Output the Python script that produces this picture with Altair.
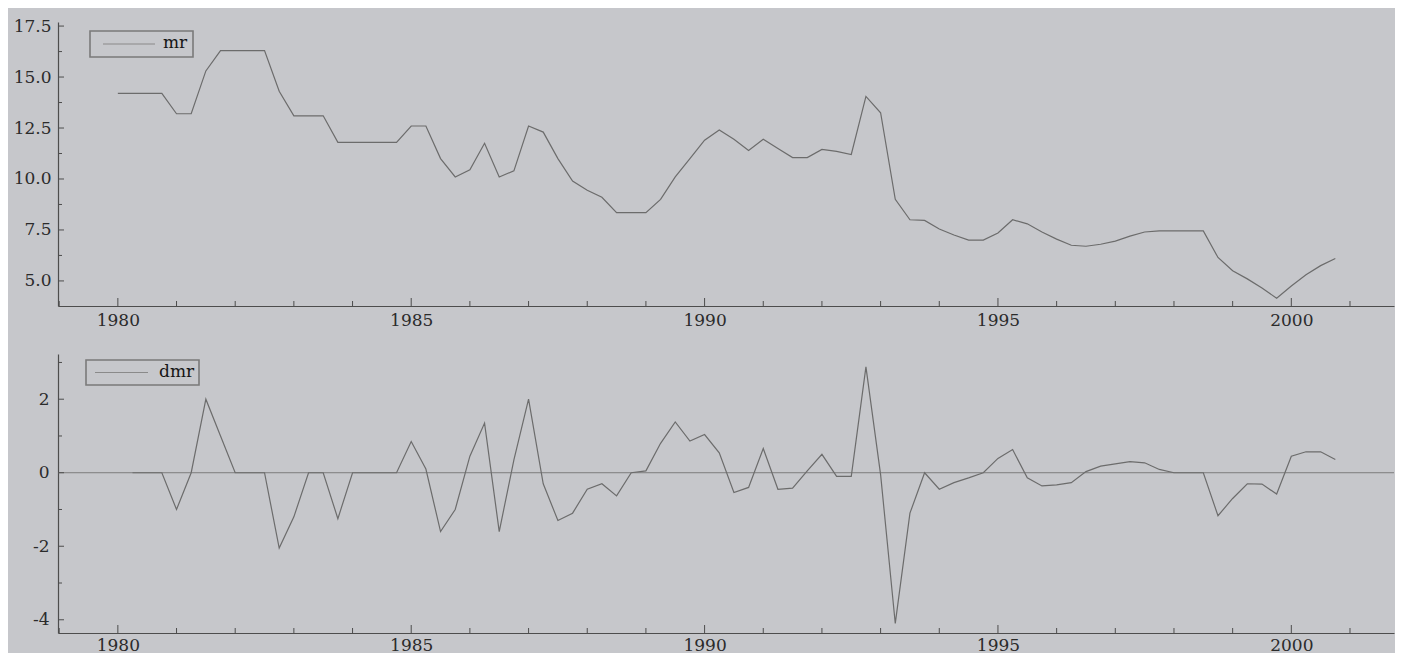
import altair as alt
import pandas as pd

# ---- data (quarterly, 1980Q1 .. 2000Q4) ----
years = list(range(1980, 2001))
quarters = [1, 2, 3, 4]

mr = [
    14.2, 14.2, 14.2, 14.2,
    13.2, 13.2, 15.3, 16.3,
    16.3, 16.3, 16.3, 14.3,
    13.1, 13.1, 13.1, 11.8,
    11.8, 11.8, 11.8, 11.8,
    12.6, 12.6, 11.0, 10.1,
    10.45, 11.75, 10.1, 10.4,
    12.6, 12.3, 11.0, 9.9,
    9.45, 9.1, 8.35, 8.35,
    8.35, 9.0, 10.1, 11.0,
    11.9, 12.4, 11.95, 11.4,
    11.95, 11.5, 11.05, 11.05,
    11.45, 11.35, 11.2, 14.05,
    13.25, 9.0, 8.0, 7.97,
    7.55, 7.25, 7.0, 7.0,
    7.35, 8.0, 7.8, 7.4,
    7.05, 6.75, 6.7, 6.8,
    6.95, 7.2, 7.4, 7.45,
    7.45, 7.45, 7.45, 6.15,
    5.5, 5.1, 4.65, 4.15,
    4.75, 5.3, 5.75, 6.1,
]

dmr = [
    None, 0.0, 0.0, 0.0,
    -1.0, 0.0, 2.0, 1.0,
    0.0, 0.0, 0.0, -2.05,
    -1.2, 0.0, 0.0, -1.25,
    0.0, 0.0, 0.0, 0.0,
    0.85, 0.1, -1.6, -1.0,
    0.45, 1.35, -1.6, 0.35,
    2.0, -0.3, -1.3, -1.1,
    -0.45, -0.3, -0.63, 0.0,
    0.05, 0.8, 1.38, 0.86,
    1.04, 0.54, -0.54, -0.4,
    0.66, -0.45, -0.42, 0.05,
    0.5, -0.1, -0.1, 2.88,
    -0.05, -4.1, -1.1, 0.0,
    -0.45, -0.27, -0.14, 0.0,
    0.39, 0.63, -0.14, -0.36,
    -0.33, -0.27, 0.03, 0.18,
    0.24, 0.3, 0.27, 0.09,
    0.0, 0.0, 0.0, -1.17,
    -0.7, -0.3, -0.31, -0.58,
    0.45, 0.57, 0.57, 0.36,
]

x_tick_labels = [1980, 1985, 1990, 1995, 2000]
x_tick_years = list(range(1979, 2002))
top_y_labels = [5.0, 7.5, 10.0, 12.5, 15.0, 17.5]
top_y_minor = [6.25, 8.75, 11.25, 13.75, 16.25]
bot_y_labels = [-4, -2, 0, 2]
bot_y_minor = [-3, -1, 1, 3]

# ---- tables built from the arrays ----
t = [y + (q - 1) / 4 for y in years for q in quarters]
df = pd.DataFrame({"t": t, "mr": mr, "dmr": dmr})
df_dmr = df.dropna(subset=["dmr"])
xt = pd.DataFrame({"year": x_tick_years,
                   "major": [y % 5 == 0 for y in x_tick_years]})
yt_top = pd.DataFrame({"v": top_y_labels + top_y_minor,
                       "major": [True] * len(top_y_labels) + [False] * len(top_y_minor)})
yt_bot = pd.DataFrame({"v": bot_y_labels + bot_y_minor,
                       "major": [True] * len(bot_y_labels) + [False] * len(bot_y_minor)})
zero = pd.DataFrame({"z": [0]})
one = pd.DataFrame({"a": [0]})

BG = "#c6c7cb"
LINE = "#6c6c6c"
AXIS = "#4d4d4d"
FONT = "DejaVu Serif"
W = 1336
H_TOP = 284
H_BOT = 279

xscale = alt.Scale(domain=[1978.98, 2001.75], nice=False, zero=False)


def x_axis(pad):
    return alt.Axis(values=x_tick_labels, format="d", ticks=False, grid=False,
                    domainColor=AXIS, domainWidth=1.2, labelFont=FONT,
                    labelFontSize=17, labelColor="#2b2b2b", labelPadding=pad,
                    labelFlush=False, title=None)


def tick_layers(h, yt, yscale):
    xmaj = alt.Chart(xt).transform_filter("datum.major").mark_rule(
        color=AXIS, strokeWidth=1).encode(
        x=alt.X("year:Q", scale=xscale), y=alt.value(h), y2=alt.value(h - 8))
    xmin = alt.Chart(xt).transform_filter("!datum.major").mark_rule(
        color=AXIS, strokeWidth=1).encode(
        x=alt.X("year:Q", scale=xscale), y=alt.value(h), y2=alt.value(h - 5))
    ymaj = alt.Chart(yt).transform_filter("datum.major").mark_rule(
        color=AXIS, strokeWidth=1).encode(
        y=alt.Y("v:Q", scale=yscale), x=alt.value(0), x2=alt.value(6))
    ymin = alt.Chart(yt).transform_filter("!datum.major").mark_rule(
        color=AXIS, strokeWidth=1).encode(
        y=alt.Y("v:Q", scale=yscale), x=alt.value(0), x2=alt.value(4))
    return [xmaj, xmin, ymaj, ymin]


def legend_layers(label, bx, by, bw, bh, lx1, lx2, tx):
    box = alt.Chart(one).mark_rect(fill=BG, stroke="#7a7a7a", strokeWidth=1.6).encode(
        x=alt.value(bx), x2=alt.value(bx + bw), y=alt.value(by), y2=alt.value(by + bh))
    ln = alt.Chart(one).mark_rule(color="#8a8a8a", strokeWidth=1.2).encode(
        x=alt.value(lx1), x2=alt.value(lx2), y=alt.value(by + bh / 2))
    txt = alt.Chart(one).mark_text(text=label, font=FONT, fontSize=17, align="left",
                                   baseline="middle", color="#151515").encode(
        x=alt.value(tx), y=alt.value(by + bh / 2 - 1))
    return [box, ln, txt]


# ---- top panel: mr ----
ys_top = alt.Scale(domain=[3.77, 17.7], nice=False, zero=False)
top_line = alt.Chart(df).mark_line(color=LINE, strokeWidth=1.2).encode(
    x=alt.X("t:Q", scale=xscale, axis=x_axis(6)),
    y=alt.Y("mr:Q", scale=ys_top,
            axis=alt.Axis(values=top_y_labels, format=".1f", ticks=False, grid=False,
                          domainColor=AXIS, domainWidth=1.2, labelFont=FONT,
                          labelFontSize=17, labelColor="#2b2b2b", labelPadding=7,
                          labelFlush=False, title=None)),
)
top = alt.layer(top_line, *tick_layers(H_TOP, yt_top, ys_top),
                *legend_layers("mr", 32, 9, 103, 26, 45, 97, 105)).properties(
    width=W, height=H_TOP)

# ---- bottom panel: dmr ----
ys_bot = alt.Scale(domain=[-4.36, 3.23], nice=False, zero=False)
zero_rule = alt.Chart(zero).mark_rule(color="#7d7d7d", strokeWidth=1).encode(
    y=alt.Y("z:Q", scale=ys_bot))
bot_line = alt.Chart(df_dmr).mark_line(color=LINE, strokeWidth=1.2).encode(
    x=alt.X("t:Q", scale=xscale, axis=x_axis(4)),
    y=alt.Y("dmr:Q", scale=ys_bot,
            axis=alt.Axis(values=bot_y_labels, ticks=False, grid=False,
                          labelExpr="datum.value < 0 ? '-' + abs(datum.value) : '' + datum.value",
                          domainColor=AXIS, domainWidth=1.2, labelFont=FONT,
                          labelFontSize=17, labelColor="#2b2b2b", labelPadding=9,
                          labelFlush=False, title=None)),
)
bot = alt.layer(zero_rule, bot_line, *tick_layers(H_BOT, yt_bot, ys_bot),
                *legend_layers("dmr", 28, 6, 113, 25, 37, 90, 101)).properties(
    width=W, height=H_BOT)

chart = alt.vconcat(top, bot, spacing=26).properties(
    padding={"left": 5, "top": 9, "right": 0, "bottom": 0},
    background=BG,
).configure_view(stroke=None)

chart.save("out.html", embed_options={"renderer": "svg", "actions": False})
